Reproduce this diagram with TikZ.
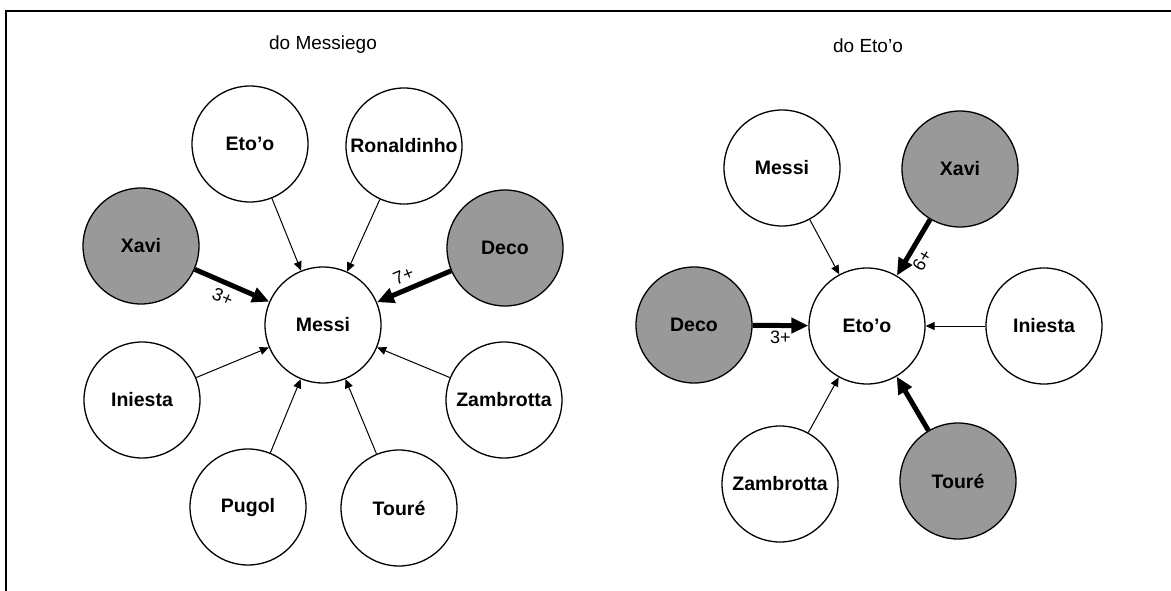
\documentclass[tikz,border=0pt]{standalone}
\usepackage{fontspec}
\setmainfont{Liberation Sans}
\usepackage{tikz}
\usetikzlibrary{arrows.meta}
\definecolor{keygray}{HTML}{999999}
\tikzset{
  player/.style={circle, draw, line width=1.3pt, minimum size=116pt, inner sep=0pt,
    font=\fontsize{19.5}{23}\selectfont\bfseries},
  keyplayer/.style={player, fill=keygray},
  pass/.style={line width=1pt, -{Triangle[length=9pt,width=8pt]}},
  bigpass/.style={line width=5pt, -{Triangle[length=17pt,width=15pt]}},
  count/.style={font=\fontsize{18}{21}\selectfont, sloped, inner sep=5pt},
  heading/.style={font=\fontsize{19}{23}\selectfont}
}

\begin{document}
\begin{tikzpicture}[x=1pt,y=-1pt]
  \useasboundingbox (0,0) rectangle (1171,591);
  \draw[line width=2pt] (6,591) -- (6,11) -- (1171,11);

  % do Messiego
  \node[heading] (titleL) at (323,45) {do Messiego};
  \node[player] (mMessi) at (323,325) {Messi};
  \node[player] (mEtoo) at (250,144) {Eto’o};
  \node[player] (mRonaldinho) at (404,146) {Ronaldinho};
  \node[keyplayer] (mXavi) at (141,246) {Xavi};
  \node[keyplayer] (mDeco) at (505,248) {Deco};
  \node[player] (mIniesta) at (142,400) {Iniesta};
  \node[player] (mZambrotta) at (504,400) {Zambrotta};
  \node[player] (mPugol) at (248,507) {Pugol};
  \node[player] (mToure) at (399,508) {Touré};

  \draw[pass] (mEtoo) -- (mMessi);
  \draw[pass] (mRonaldinho) -- (mMessi);
  \draw[bigpass] (mXavi) -- node[count, below, pos=0.45] {3+} (mMessi);
  \draw[bigpass] (mDeco) -- node[count, above, pos=0.57] {7+} (mMessi);
  \draw[pass] (mIniesta) -- (mMessi);
  \draw[pass] (mZambrotta) -- (mMessi);
  \draw[pass] (mPugol) -- (mMessi);
  \draw[pass] (mToure) -- (mMessi);

  % do Eto'o
  \node[heading] (titleR) at (868,46) {do Eto’o};
  \node[player] (eEtoo) at (867,326) {Eto’o};
  \node[player] (eMessi) at (782,168) {Messi};
  \node[keyplayer] (eXavi) at (960,169) {Xavi};
  \node[keyplayer] (eDeco) at (694,325) {Deco};
  \node[player] (eIniesta) at (1044,326) {Iniesta};
  \node[player] (eZambrotta) at (780,484) {Zambrotta};
  \node[keyplayer] (eToure) at (958,481) {Touré};

  \draw[pass] (eMessi) -- (eEtoo);
  \draw[bigpass] (eXavi) -- node[count, below, pos=0.6] {6+} (eEtoo);
  \draw[bigpass] (eDeco) -- node[count, below, pos=0.5, inner sep=3pt] {3+} (eEtoo);
  \draw[pass] (eIniesta) -- (eEtoo);
  \draw[pass] (eZambrotta) -- (eEtoo);
  \draw[bigpass] (eToure) -- (eEtoo);
\end{tikzpicture}
\end{document}
